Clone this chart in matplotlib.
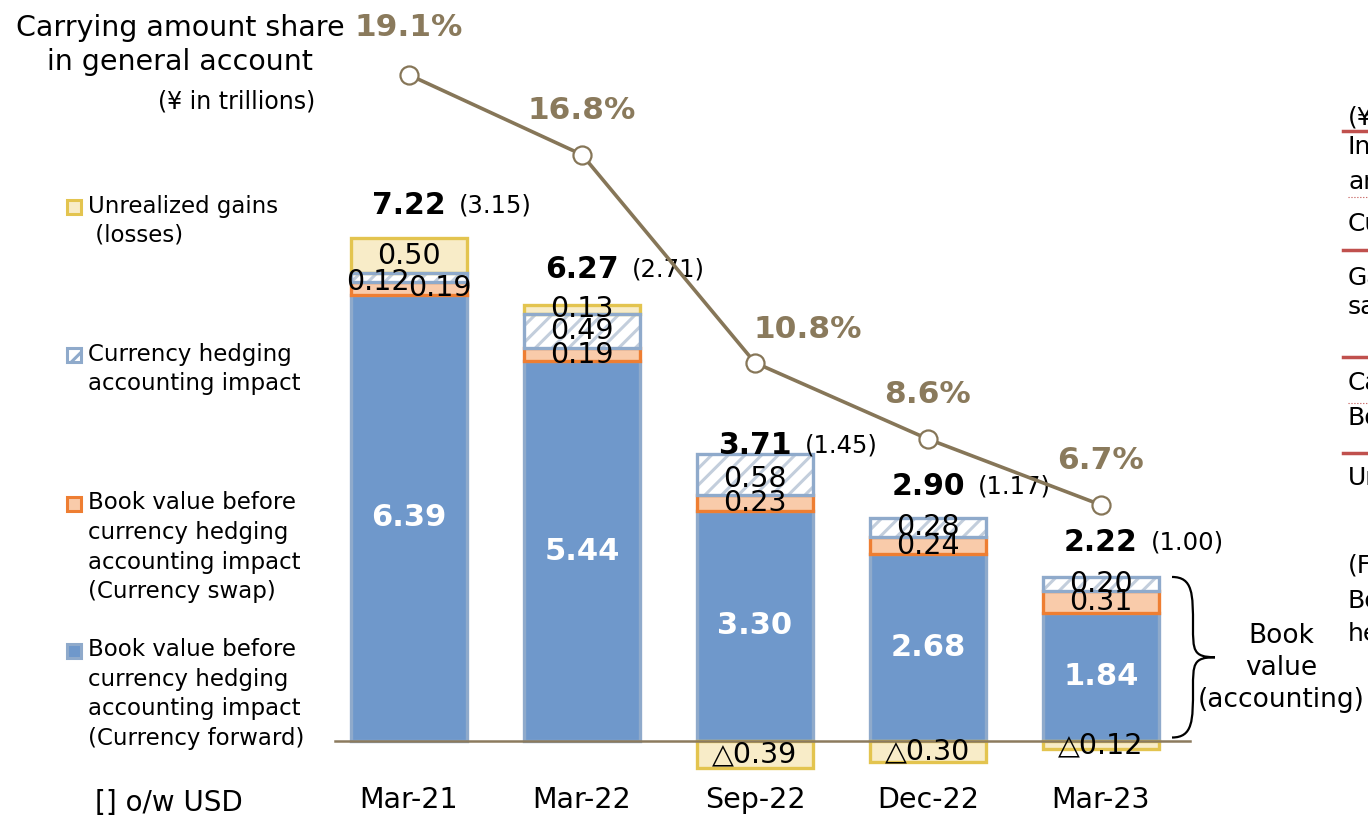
import matplotlib.pyplot as plt
import numpy as np
from matplotlib.patches import Rectangle, PathPatch
from matplotlib.path import Path

plt.rcParams['font.family'] = ['DejaVu Sans']
plt.rcParams['hatch.linewidth'] = 2.2

# data (¥ in trillions)
periods = ['Mar-21', 'Mar-22', 'Sep-22', 'Dec-22', 'Mar-23']
fwd = np.array([6.39, 5.44, 3.30, 2.68, 1.84])      # book value, currency forward
swap = np.array([0.19, 0.19, 0.23, 0.24, 0.31])     # book value, currency swap
hedge = np.array([0.12, 0.49, 0.58, 0.28, 0.20])    # currency hedging accounting impact
unreal = np.array([0.50, 0.13, -0.39, -0.30, -0.12])  # unrealized gains (losses)
totals = [7.22, 6.27, 3.71, 2.90, 2.22]
usd = [3.15, 2.71, 1.45, 1.17, 1.00]
share = [19.1, 16.8, 10.8, 8.6, 6.7]  # carrying amount share, %

W, H = 1368, 817
c_blue, c_blue_edge = '#6F98CB', '#8FAACB'
c_org, c_org_edge = '#F9CBAA', '#EE7E32'
c_hatch = '#C3CEDC'
c_yel, c_yel_edge = '#F8ECC8', '#E3C44F'
c_line = '#867658'

fig = plt.figure(figsize=(13.68, 8.17), dpi=100)
ax = fig.add_axes([0, 0, 1, 1])
ax.set_xlim(-409 / 173, (W - 409) / 173)
ax.set_ylim(-76 / 69.8, 741 / 69.8)
ax.axis('off')

def P(x, y):
    return (x / W, 1 - y / H)

x = np.arange(len(periods))
bw = 0.67
lw = 2.4

ax.bar(x, fwd, bw, color=c_blue, edgecolor=c_blue_edge, linewidth=lw, zorder=2)
ax.bar(x, swap, bw, bottom=fwd, color=c_org, edgecolor=c_org_edge, linewidth=lw, zorder=2)
hb = fwd + swap
ax.bar(x, hedge, bw, bottom=hb, color='white', edgecolor=c_hatch, hatch='//', linewidth=0, zorder=2)
ax.bar(x, hedge, bw, bottom=hb, fill=False, edgecolor=c_blue_edge, linewidth=lw, zorder=3)
top = hb + hedge
ub = np.where(unreal > 0, top, 0)
ax.bar(x, unreal, bw, bottom=ub, color=c_yel, edgecolor=c_yel_edge, linewidth=lw, zorder=2)

# baseline
ax.plot([(335 - 409) / 173, (1190 - 409) / 173], [0, 0], color='#8C7B5E', lw=1.8, zorder=4)

# segment labels
swap_dx = [0.18, 0, 0, 0, 0]
hedge_dx = [-0.18, 0, 0, 0, 0]
hedge_dy = [-0.07, 0, -0.06, 0, 0]
for i in range(len(x)):
    ax.text(x[i], fwd[i] / 2, f'{fwd[i]:.2f}', color='white', fontsize=22, fontweight='bold',
            ha='center', va='center', zorder=5)
    ax.text(x[i] + swap_dx[i], fwd[i] + swap[i] / 2, f'{swap[i]:.2f}', fontsize=20.5,
            ha='center', va='center', zorder=5)
    ax.text(x[i] + hedge_dx[i], hb[i] + hedge[i] / 2 + hedge_dy[i], f'{hedge[i]:.2f}', fontsize=20.5,
            ha='center', va='center', zorder=5)
    lab = f'{unreal[i]:.2f}' if unreal[i] > 0 else f'△{abs(unreal[i]):.2f}'
    ax.text(x[i], ub[i] + unreal[i] / 2, lab, fontsize=20.5, ha='center', va='center', zorder=5)

# totals
tot_dy = [0.47, 0.50, 0.13, 0.45, 0.50]
for i in range(len(x)):
    yy = top[i] + max(unreal[i], 0) + tot_dy[i]
    ax.text(x[i], yy, f'{totals[i]:.2f}', fontsize=21.5, fontweight='bold', ha='center', va='center', zorder=5)
    ax.text(x[i] + 0.29, yy, f'({usd[i]:.2f})', fontsize=17.5, ha='left', va='center', zorder=5)

# x labels
for i, p in enumerate(periods):
    ax.text(x[i], -0.85, p, fontsize=20.5, ha='center', va='center')

# share line
ax2 = ax.twinx()
ax2.set_ylim(-(H - 737.3) / 34.68, 737.3 / 34.68)
ax2.axis('off')
ax2.plot(x, share, color=c_line, lw=2.6, marker='o', markersize=13,
         markerfacecolor='white', markeredgecolor=c_line, markeredgewidth=1.6, zorder=6)
pct_off = [(0, 34), (0, 32), (38, 24), (0, 32), (0, 32)]
for i in range(len(x)):
    ax2.annotate(f'{share[i]}%', (x[i], share[i]), xytext=pct_off[i], textcoords='offset points',
                 fontsize=22.5, fontweight='bold', color='#8A7A5C', ha='center', va='center')

# header
ax.text(*P(180, 28), 'Carrying amount share', transform=ax.transAxes, fontsize=20.5, ha='center', va='center')
ax.text(*P(180, 62), 'in general account', transform=ax.transAxes, fontsize=20.5, ha='center', va='center')
ax.text(*P(315, 101), '(¥ in trillions)', transform=ax.transAxes, fontsize=17, ha='right', va='center')

# legend
leg = [
    (206, dict(facecolor=c_yel, edgecolor=c_yel_edge), ['Unrealized gains', ' (losses)']),
    (354, dict(facecolor='white', edgecolor=c_blue_edge, hatch='//'), ['Currency hedging', 'accounting impact']),
    (503, dict(facecolor=c_org, edgecolor=c_org_edge),
     ['Book value before', 'currency hedging', 'accounting impact', '(Currency swap)']),
    (650, dict(facecolor=c_blue, edgecolor=c_blue_edge),
     ['Book value before', 'currency hedging', 'accounting impact', '(Currency forward)']),
]
for y0, st, lines in leg:
    x0, y1 = P(67, y0 + 8)
    ax.add_patch(Rectangle((x0, y1), 14 / W, 14 / H, transform=ax.transAxes, linewidth=2.2, **st))
    for k, t in enumerate(lines):
        ax.text(*P(88, y0 + k * 29.5), t, transform=ax.transAxes, fontsize=16.5, ha='left', va='center')

ax.text(*P(95, 803), '[] o/w USD', transform=ax.transAxes, fontsize=20, ha='left', va='center')

# brace for book value
bx0, bxm, bxt = (1172 - 409) / 173, (1193 - 409) / 173, (1215 - 409) / 173
yt, yb = top[-1], 0.05
ym = (yt + yb) / 2
verts = [(bx0, yt), (bxm, yt), (bxm, yt - 0.25), (bxm, ym + 0.45),
         (bxm, ym + 0.1), (bxm, ym), (bxt, ym),
         (bxm, ym), (bxm, ym - 0.1), (bxm, ym - 0.45),
         (bxm, yb + 0.25), (bxm, yb), (bx0, yb)]
codes = [Path.MOVETO] + [Path.CURVE4] * 12
ax.add_patch(PathPatch(Path(verts, codes), fill=False, lw=1.6, color='black', clip_on=False))
for k, t in enumerate(['Book', 'value', '(accounting)']):
    ax.text(*P(1281, 636 + k * 32), t, transform=ax.transAxes, fontsize=19, ha='center', va='center')

# cut-off table on the right
frag = [(117, '(¥'), (147, 'In'), (182, 'an'), (224, 'Cu'), (278, 'Ga'), (307, 'sa'),
        (383, 'Ca'), (418, 'Bo'), (478, 'Un'), (566, '(F'), (601, 'Bo'), (634, 'he')]
for yy, t in frag:
    ax.text(*P(1348, yy), t, transform=ax.transAxes, fontsize=18, ha='left', va='center')
for yy in [131, 250, 357, 453]:
    ax.plot([1343 / W, 1], [1 - yy / H] * 2, transform=ax.transAxes, color='#C0504D', lw=2.5)
for yy in [197, 403]:
    ax.plot([1348 / W, 1], [1 - yy / H] * 2, transform=ax.transAxes, color='#C0504D', lw=0.8, ls=':')

fig.savefig('out.png', dpi=100)
